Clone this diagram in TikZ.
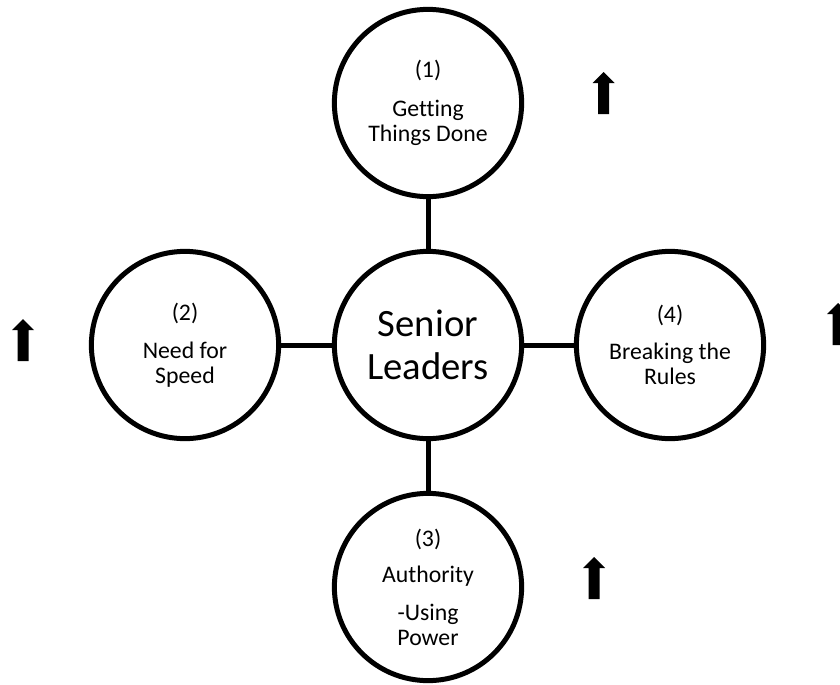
\documentclass[tikz,border=0pt]{standalone}
\usepackage{fontspec}
\setmainfont{Carlito}[Ligatures=NoCommon]
\usepackage{tikz}

\tikzset{
  ring/.style={circle, draw, line width=0.125cm, minimum size=4.68cm, inner sep=0pt,
    align=center, font=\fontsize{16.9pt}{17.8pt}\selectfont},
  hub/.style={ring, font=\fontsize{27.5pt}{30.6pt}\selectfont},
  link/.style={line width=0.125cm},
}

\begin{document}
\begin{tikzpicture}[x=0.025cm, y=-0.025cm]
                                \useasboundingbox (0,0) rectangle (840,684);
                                \node (leaders) at (428, 345) [hub] {Senior\\Leaders};
                                \node (done) at (428, 103) [ring] {(1)\\[10pt]Getting\\Things Done};
                                \node (speed) at (185, 345) [ring] {(2)\\[9pt]Need for\\Speed};
                                \node (power) at (428, 587) [ring] {(3)\\[8pt]Authority\\[9pt]-Using\\Power};
                                \node (rules) at (670, 345) [ring] {(4)\\[9pt]Breaking the\\Rules};

                                \draw [link] (leaders) -- (done);
                                \draw [link] (leaders) -- (speed);
                                \draw [link] (leaders) -- (power);
                                \draw [link] (leaders) -- (rules);

                                \foreach \x/\y in {603.5/72, 23/319, 594/557, 838/303}
                                  \fill [shift={(\x, \y)}] (0, 0) -- (11, 11) -- (5.5, 11) -- (5.5, 42)
                                    -- (-5.5, 42) -- (-5.5, 11) -- (-11, 11) -- cycle;
                            \end{tikzpicture}
\end{document}
